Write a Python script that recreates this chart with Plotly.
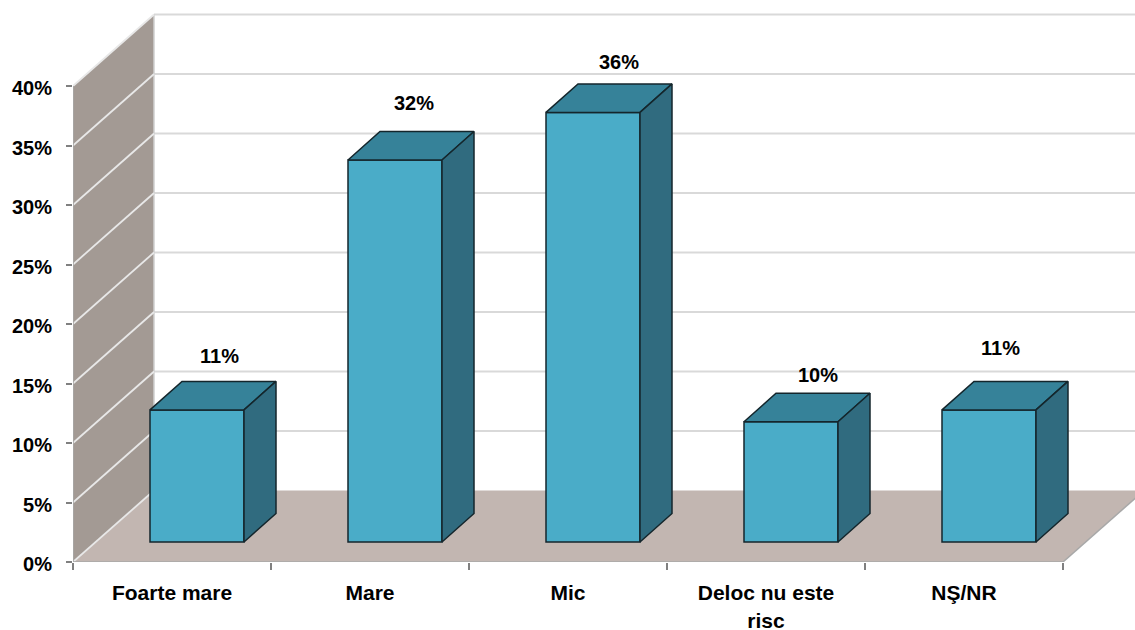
import plotly.graph_objects as go

categories = ["Foarte mare", "Mare", "Mic", "Deloc nu este<br>risc", "NŞ/NR"]
values = [11.1, 32.1, 36.1, 10.1, 11.1]
value_labels = ["11%", "32%", "36%", "10%", "11%"]
y_ticks = [0, 5, 10, 15, 20, 25, 30, 35, 40]

# --- layout and 3D projection ---
W, H = 1135, 630
ML, MB = 73, 68
CAT_PX, PCT_PX = 198.0, 11.9
WALL_DX, WALL_DY = 81 / CAT_PX, 71.5 / PCT_PX
BAR_DX, BAR_DY = 32 / CAT_PX, 28.5 / PCT_PX
BAR_BASE = 20 / PCT_PX
BAR_W = 94 / CAT_PX
BAR_LEFT = 77 / CAT_PX
X_MAX = (W - ML) / CAT_PX
Y_MAX = (H - MB) / PCT_PX
N = len(categories)
label_nudge = [(6, 25), (3, 29), (10, 22), (11, 18), (-5, 33)]

FRONT, TOP, SIDE, EDGE = "#4aacc8", "#368299", "#306b7f", "#14262c"
WALL, FLOOR = "#a39a94", "#c2b6b1"
FONT = dict(family="Liberation Sans, Arial, sans-serif", size=20, color="#000000", weight="bold")
XFONT = dict(FONT, size=21)


def poly(xs, ys, fill, line, width):
    path = "M " + " L ".join(f"{x},{y}" for x, y in zip(xs, ys)) + " Z"
    return dict(type="path", path=path, xref="x", yref="y", layer="below",
                fillcolor=fill, line=dict(color=line, width=width))


def seg(x0, y0, x1, y1, color, width):
    return dict(type="line", x0=x0, y0=y0, x1=x1, y1=y1, xref="x", yref="y",
                layer="below", line=dict(color=color, width=width))


shapes = []
# back wall gridlines
for t in y_ticks[1:]:
    shapes.append(seg(WALL_DX, t + WALL_DY, X_MAX, t + WALL_DY, "#d9d9d9", 2))
# floor
shapes.append(poly([0, WALL_DX, N + WALL_DX, N], [0, WALL_DY, WALL_DY, 0], FLOOR, FLOOR, 0))
shapes.append(seg(N, 0, N + WALL_DX, WALL_DY, "#a8a8a8", 1.5))
# side wall
shapes.append(poly([0, WALL_DX, WALL_DX, 0], [0, WALL_DY, y_ticks[-1] + WALL_DY, y_ticks[-1]], WALL, WALL, 0))
shapes.append(seg(WALL_DX, WALL_DY, WALL_DX, y_ticks[-1] + WALL_DY, "#cfcfcf", 1.5))
for t in y_ticks:
    shapes.append(seg(0, t, WALL_DX, t + WALL_DY, "#e8e8e8", 1.8))

fig = go.Figure()

# front faces
fig.add_trace(go.Bar(
    x=[i + BAR_LEFT + BAR_W / 2 for i in range(N)],
    y=values,
    base=[BAR_BASE] * N,
    width=BAR_W,
    marker=dict(color=FRONT, line=dict(color=EDGE, width=1.5)),
    hoverinfo="skip",
))

# top and side faces
for i, v in enumerate(values):
    x0 = i + BAR_LEFT
    x1 = x0 + BAR_W
    y0 = BAR_BASE
    y1 = BAR_BASE + v
    fig.add_trace(go.Scatter(
        x=[x0, x0 + BAR_DX, x1 + BAR_DX, x1, x0],
        y=[y1, y1 + BAR_DY, y1 + BAR_DY, y1, y1],
        mode="lines", fill="toself", fillcolor=TOP,
        line=dict(color=EDGE, width=1.5), hoverinfo="skip",
    ))
    fig.add_trace(go.Scatter(
        x=[x1, x1 + BAR_DX, x1 + BAR_DX, x1, x1],
        y=[y1, y1 + BAR_DY, y0 + BAR_DY, y0, y1],
        mode="lines", fill="toself", fillcolor=SIDE,
        line=dict(color=EDGE, width=1.5), hoverinfo="skip",
    ))

# axis lines limited to the data extent
fig.add_trace(go.Scatter(x=[0, N], y=[0, 0], mode="lines", cliponaxis=False,
                         line=dict(color="#a8a8a8", width=1.5), hoverinfo="skip"))
fig.add_trace(go.Scatter(x=[0, 0], y=[0, y_ticks[-1]], mode="lines", cliponaxis=False,
                         line=dict(color="#a8a8a8", width=1.5), hoverinfo="skip"))

annotations = [
    dict(x=i + BAR_LEFT + BAR_W / 2 + BAR_DX / 2, y=BAR_BASE + v + BAR_DY,
         xref="x", yref="y", text=lab, showarrow=False, font=FONT,
         xanchor="center", yanchor="middle", xshift=dx, yshift=dy)
    for i, (v, lab, (dx, dy)) in enumerate(zip(values, value_labels, label_nudge))
]

fig.update_layout(
    width=W, height=H,
    margin=dict(l=ML, r=0, t=0, b=MB, pad=0, autoexpand=False),
    paper_bgcolor="#ffffff", plot_bgcolor="#ffffff",
    showlegend=False, hovermode=False,
    shapes=shapes, annotations=annotations,
    font=FONT,
    xaxis=dict(
        range=[0, X_MAX], showgrid=False, zeroline=False, showline=False, automargin=False,
        tickmode="array", tickvals=[i + 0.5 for i in range(N)], ticktext=categories,
        ticks="outside", ticklen=12, tickcolor="rgba(0,0,0,0)", tickangle=0,
        tickfont=XFONT,
        minor=dict(tickmode="array", tickvals=list(range(N + 1)), ticks="outside",
                   ticklen=7, tickwidth=1.5, tickcolor="#808080", showgrid=False),
    ),
    yaxis=dict(
        range=[0, Y_MAX], showgrid=False, zeroline=False, showline=False, automargin=False,
        tickmode="array", tickvals=y_ticks, ticktext=[f"{t}%" for t in y_ticks],
        ticks="outside", ticklen=6, tickwidth=1.5, tickcolor="#808080",
        tickfont=FONT, ticklabelstandoff=10, ticklabelshift=2,
    ),
)

fig.write_html(
    "out.html",
    config={"displayModeBar": False},
    post_script="document.documentElement.style.overflow='hidden';"
                "document.body.style.margin='0';document.body.style.overflow='hidden';",
)
